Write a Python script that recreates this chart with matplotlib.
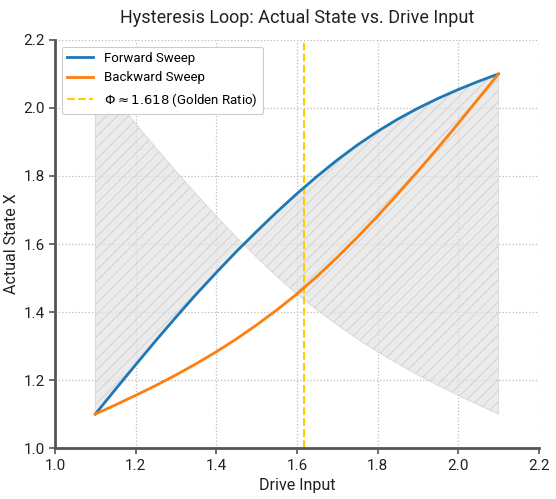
import matplotlib
matplotlib.use("Agg")
import matplotlib.pyplot as plt
import numpy as np

plt.rcParams['font.family'] = ['Roboto', 'DejaVu Sans']
plt.rcParams['hatch.linewidth'] = 0.8

# values
drive = [1.1, 1.15, 1.2, 1.25, 1.3, 1.35, 1.4, 1.45, 1.5, 1.55, 1.6,
         1.65, 1.7, 1.75, 1.8, 1.85, 1.9, 1.95, 2.0, 2.05, 2.1]
forward_state = [1.1, 1.173, 1.245, 1.316, 1.385, 1.452, 1.516, 1.578, 1.637, 1.694, 1.748,
                 1.799, 1.847, 1.891, 1.931, 1.967, 1.999, 2.028, 2.054, 2.078, 2.1]
backward_state = [1.1, 1.127, 1.155, 1.184, 1.215, 1.248, 1.283, 1.321, 1.362, 1.406, 1.453,
                  1.505, 1.561, 1.620, 1.682, 1.747, 1.814, 1.883, 1.954, 2.027, 2.1]
golden_ratio = 1.618

x_ticks = [1.0, 1.2, 1.4, 1.6, 1.8, 2.0, 2.2]
y_ticks = [1.0, 1.2, 1.4, 1.6, 1.8, 2.0, 2.2]

fig = plt.figure(figsize=(5.56, 4.99), dpi=100)
ax = fig.add_axes([0.099, 0.102, 0.87, 0.818])

# shaded band between forward sweep and reversed backward sweep
ax.fill_between(drive, forward_state, backward_state[::-1],
                facecolor='#e3e3e3', edgecolor='#cccccc', alpha=0.7,
                hatch='///', linewidth=0.6, zorder=1)

ax.plot(drive, forward_state, color='#1f77b4', lw=2, label='Forward Sweep', zorder=3)
ax.plot(drive, backward_state, color='#ff7f0e', lw=2, label='Backward Sweep', zorder=3)
ax.axvline(golden_ratio, color='#ffcc00', lw=1.5, ls='--',
           label=r'$\Phi \approx 1.618$ (Golden Ratio)', zorder=2)

ax.set_xlim(1.0, 2.2)
ax.set_ylim(1.0, 2.2)
ax.set_xticks(x_ticks)
ax.set_yticks(y_ticks)
ax.set_xticklabels([f'{t:.1f}' for t in x_ticks])
ax.set_yticklabels([f'{t:.1f}' for t in y_ticks])
ax.tick_params(labelsize=11, colors='#222222', length=4, width=1.2)
ax.tick_params(axis='both', color='#555555')

ax.grid(True, ls=':', color='#bbbbbb', lw=0.9)
ax.set_axisbelow(True)
for side in ['top', 'right']:
    ax.spines[side].set_visible(False)
for side in ['left', 'bottom']:
    ax.spines[side].set_color('#555555')
    ax.spines[side].set_linewidth(2)

ax.set_xlabel('Drive Input', fontsize=11.5, color='#222222')
ax.set_ylabel('Actual State X', fontsize=11.5, color='#222222', labelpad=3)
ax.set_title('Hysteresis Loop: Actual State vs. Drive Input', fontsize=13, color='#222222', pad=12)

leg = ax.legend(loc='upper left', fontsize=9.5, framealpha=1, edgecolor='#cccccc')
leg.get_frame().set_linewidth(0.8)

fig.savefig('out.png', dpi=100)
